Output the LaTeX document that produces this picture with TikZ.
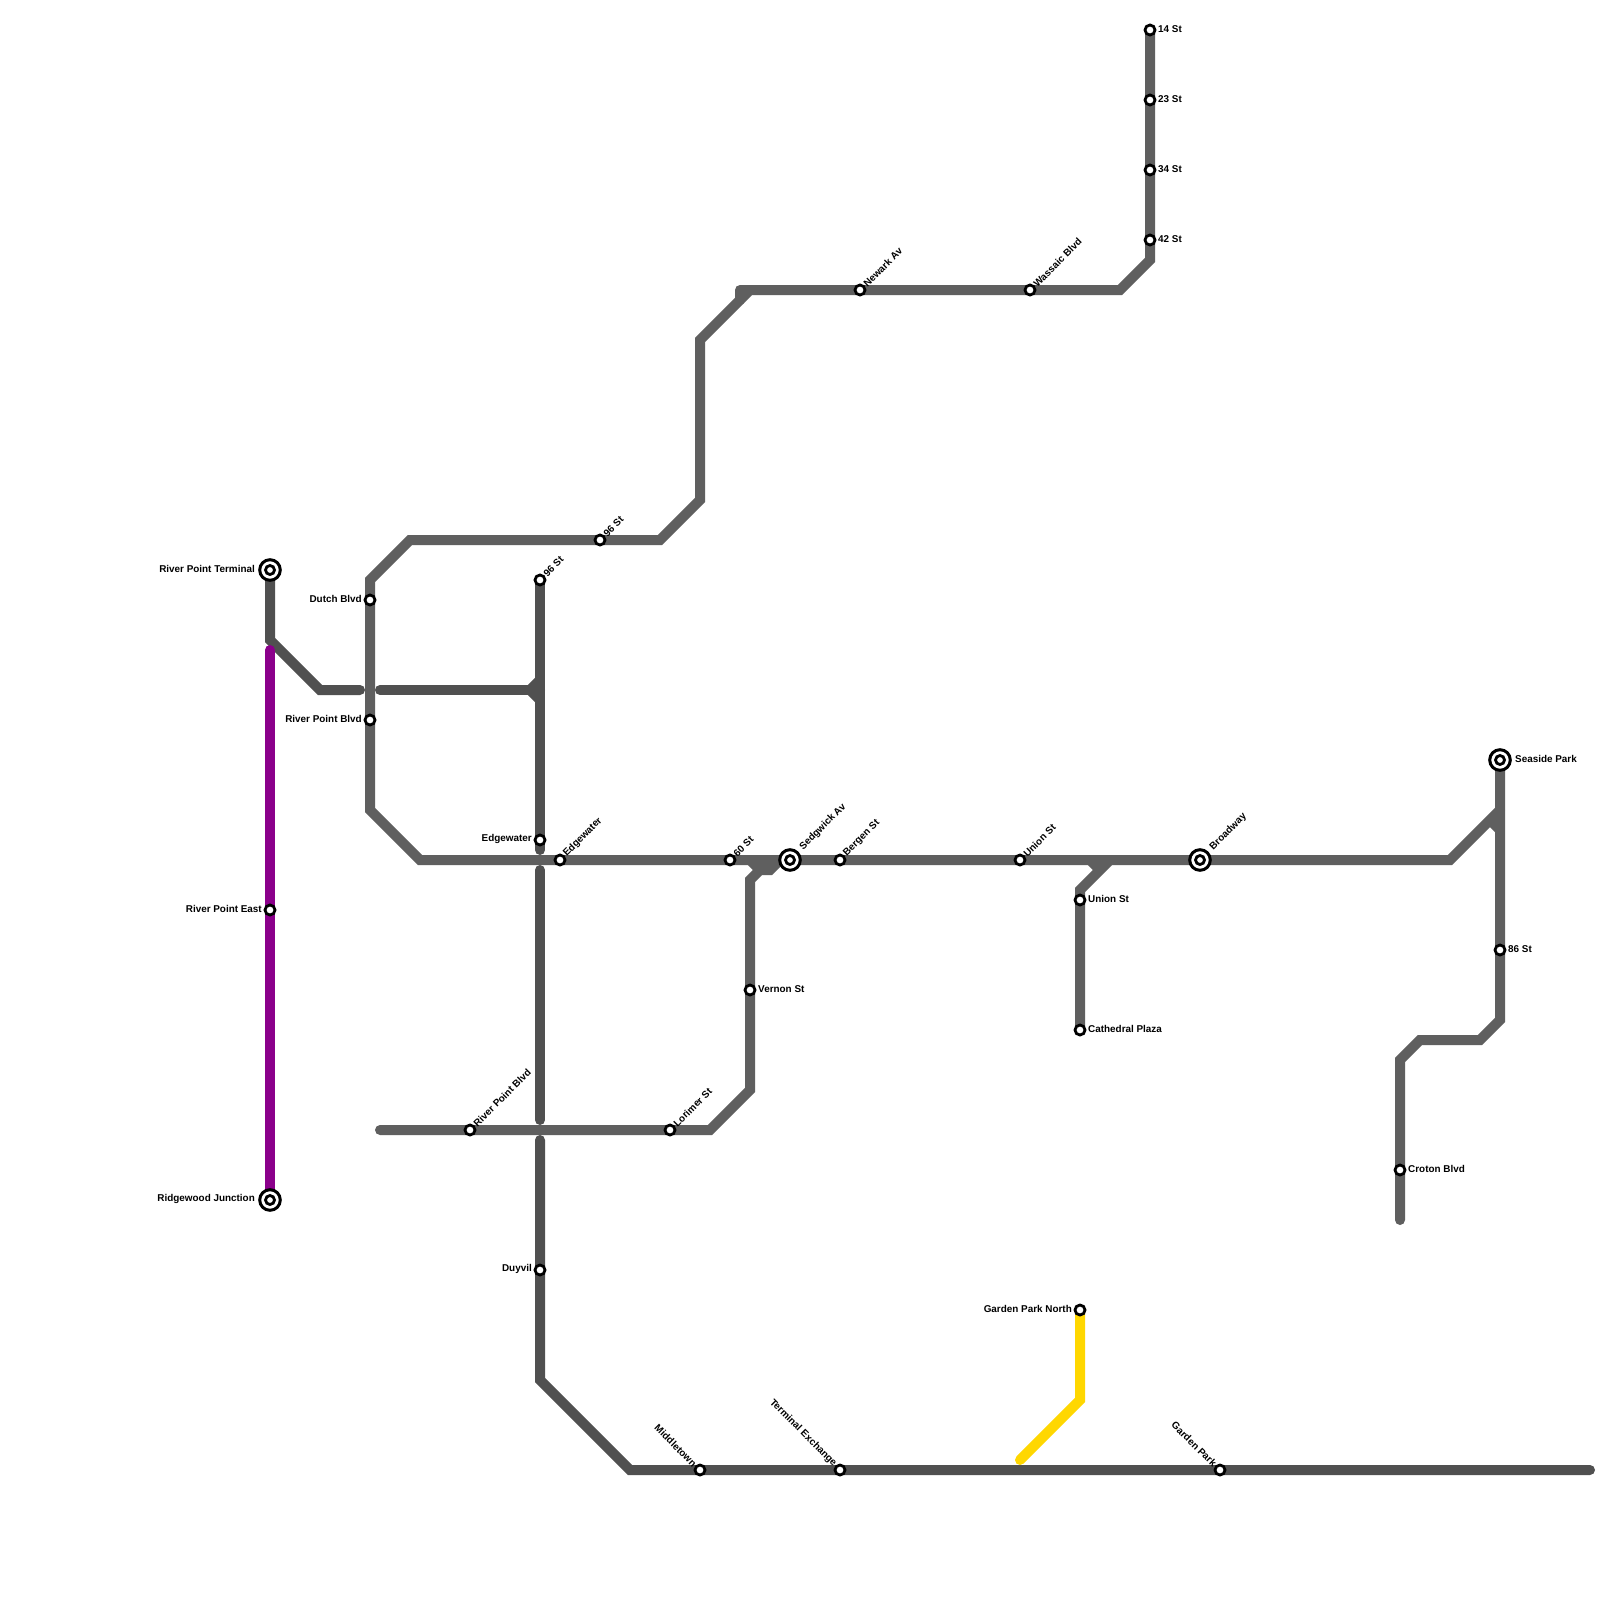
\documentclass[tikz,border=0pt]{standalone}
\usepackage{fontspec}
\setmainfont{Liberation Sans}
\pgfdeclarelayer{lines}
\pgfsetlayers{lines,main}
\definecolor{lineA}{HTML}{5F5F5F}
\definecolor{lineB}{HTML}{505050}
\definecolor{purpleline}{HTML}{8B008B}
\definecolor{yellowline}{HTML}{FFD700}
\tikzset{
  rail/.style={line width=10pt,line cap=round,line join=miter,miter limit=10},
  stn/.style={circle,draw=black,fill=white,line width=2.8pt,outer sep=0pt,minimum size=10pt,inner sep=0pt},
  hubo/.style={circle,draw=black,fill=white,line width=3pt,outer sep=0pt,minimum size=20.6pt,inner sep=0pt},
  hubi/.style={circle,draw=black,fill=white,line width=2.8pt,outer sep=0pt,minimum size=9pt,inner sep=0pt},
  lab/.style={font=\bfseries\fontsize{9.9}{10}\selectfont,inner sep=0pt,text=black},
  lr/.style={lab,anchor=west,xshift=8pt,yshift=0.8pt},
  ll/.style={lab,anchor=east,xshift=-8pt,yshift=0.8pt},
  lR/.style={lab,anchor=west,xshift=15pt,yshift=0.8pt},
  lL/.style={lab,anchor=east,xshift=-15pt,yshift=0.8pt},
  lu/.style={lab,anchor=west,rotate=45,xshift=7pt},
  lU/.style={lab,anchor=west,rotate=45,xshift=16pt},
  ld/.style={lab,anchor=east,rotate=-45,xshift=-7pt},
}
\newcommand{\stnode}[3]{\node[stn] (#1) at (#2,#3) {};}
\newcommand{\hubnode}[3]{\node[hubo] (#1) at (#2,#3) {}; \node[hubi] (#1i) at (#2,#3) {};}
\begin{document}
\begin{tikzpicture}[x=1pt,y=-1pt]
\useasboundingbox (0,0) rectangle (1600,1600);
% stations
\hubnode{rpt}{270}{570}
\hubnode{rj}{270}{1200}
\hubnode{sedg}{790}{860}
\hubnode{bway}{1200}{860}
\hubnode{sea}{1500}{760}
\stnode{rpe}{270}{910}
\stnode{dutch}{370}{600}
\stnode{rpb}{370}{720}
\stnode{nsa}{540}{580}
\stnode{edgea}{540}{840}
\stnode{edgeb}{560}{860}
\stnode{nsb}{600}{540}
\stnode{six}{730}{860}
\stnode{berg}{840}{860}
\stnode{unia}{1020}{860}
\stnode{unib}{1080}{900}
\stnode{cath}{1080}{1030}
\stnode{vern}{750}{990}
\stnode{rpc}{470}{1130}
\stnode{lori}{670}{1130}
\stnode{duyv}{540}{1270}
\stnode{midt}{700}{1470}
\stnode{term}{840}{1470}
\stnode{gard}{1220}{1470}
\stnode{gpn}{1080}{1310}
\stnode{eisix}{1500}{950}
\stnode{crot}{1400}{1170}
\stnode{sfour}{1150}{30}
\stnode{sthree}{1150}{100}
\stnode{sthf}{1150}{170}
\stnode{sft}{1150}{240}
\stnode{newk}{860}{290}
\stnode{wass}{1030}{290}
% free vertices
\coordinate (v1) at (270,640); \coordinate (v2) at (320,690); \coordinate (v3) at (360,690);
\coordinate (v4) at (380,690); \coordinate (v5) at (540,690); \coordinate (v6) at (530,690);
\coordinate (v7) at (540,680); \coordinate (v8) at (540,700); \coordinate (v9) at (540,850);
\coordinate (v10) at (540,870); \coordinate (v11) at (540,1120); \coordinate (v12) at (540,1140);
\coordinate (v13) at (540,1380); \coordinate (v14) at (630,1470); \coordinate (v15) at (1590,1470);
\coordinate (a1) at (370,580); \coordinate (a2) at (410,540); \coordinate (a3) at (660,540);
\coordinate (a4) at (700,500); \coordinate (a5) at (700,340); \coordinate (a6) at (750,290);
\coordinate (a7) at (1120,290); \coordinate (a8) at (1150,260); \coordinate (a9) at (740,300);
\coordinate (a10) at (740,290);
\coordinate (b1) at (370,810); \coordinate (b2) at (420,860); \coordinate (b3) at (1450,860);
\coordinate (b4) at (1500,810); \coordinate (b5) at (1500,830); \coordinate (b6) at (1490,820);
\coordinate (c1) at (1500,1020); \coordinate (c2) at (1480,1040); \coordinate (c3) at (1420,1040);
\coordinate (c4) at (1400,1060); \coordinate (c5) at (1400,1220);
\coordinate (d1) at (380,1130); \coordinate (d2) at (710,1130); \coordinate (d3) at (750,1090);
\coordinate (d4) at (750,880); \coordinate (d5) at (760,870); \coordinate (d6) at (770,870);
\coordinate (d7) at (780,860); \coordinate (d8) at (750,860);
\coordinate (e1) at (1080,890); \coordinate (e2) at (1110,860); \coordinate (e3) at (1090,860);
\coordinate (e4) at (1100,870);
\coordinate (y1) at (1080,1400); \coordinate (y2) at (1020,1460);
\coordinate (p1) at (270,650);
\begin{pgfonlayer}{lines}
\fill[white] (0,0) rectangle (1600,1600);
% lighter lines
\draw[rail,lineA] (sfour.center) -- (a8) -- (a7) -- (a6) -- (a5) -- (a4) -- (a3) -- (a2) -- (a1) -- (b1) -- (b2) -- (b3) -- (b4);
\draw[rail,lineA,line join=round] (a9) -- (a10) -- (a6);
\draw[rail,lineA,line cap=butt] (b5) -- (b6);
\draw[rail,lineA] (sea.center) -- (c1) -- (c2) -- (c3) -- (c4) -- (c5);
\draw[rail,lineA] (d1) -- (d2) -- (d3) -- (d4) -- (d5) -- (d6) -- (d7);
\draw[rail,lineA,line cap=butt] (d8) -- (d5);
\draw[rail,lineA] (cath.center) -- (e1) -- (e2);
\draw[rail,lineA,line cap=butt] (e3) -- (e4);
% darker lines
\draw[rail,lineB] (rpt.center) -- (v1) -- (v2) -- (v3);
\draw[rail,lineB] (v4) -- (v5);
\draw[rail,lineB] (nsa.center) -- (v9);
\draw[rail,lineB,line cap=butt] (v7) -- (v6) -- (v8);
\draw[rail,lineB] (v10) -- (v11);
\draw[rail,lineB] (v12) -- (v13) -- (v14) -- (v15);
% coloured lines
\draw[rail,purpleline] (p1) -- (rj.center);
\draw[rail,yellowline] (gpn.center) -- (y1) -- (y2);
\end{pgfonlayer}
% labels
\node[lL] (l1) at (rpt) {River Point Terminal};
\node[lL] (l2) at (rj) {Ridgewood Junction};
\node[ll] (l3) at (rpe) {River Point East};
\node[ll] (l4) at (dutch) {Dutch Blvd};
\node[ll] (l5) at (rpb) {River Point Blvd};
\node[ll] (l6) at (edgea) {Edgewater};
\node[ll] (l7) at (duyv) {Duyvil};
\node[ll] (l8) at (gpn) {Garden Park North};
\node[lr] (l9) at (vern) {Vernon St};
\node[lr] (l10) at (unib) {Union St};
\node[lr] (l11) at (cath) {Cathedral Plaza};
\node[lr] (l12) at (eisix) {86 St};
\node[lr] (l13) at (crot) {Croton Blvd};
\node[lr] (l14) at (sfour) {14 St};
\node[lr] (l15) at (sthree) {23 St};
\node[lr] (l16) at (sthf) {34 St};
\node[lr] (l17) at (sft) {42 St};
\node[lR] (l18) at (sea) {Seaside Park};
\node[lu] (l19) at (nsa) {96 St};
\node[lu] (l20) at (edgeb) {Edgewater};
\node[lu] (l21) at (nsb) {96 St};
\node[lu] (l22) at (six) {60 St};
\node[lU] (l23) at (sedg) {Sedgwick Av};
\node[lu] (l24) at (berg) {Bergen St};
\node[lu] (l25) at (unia) {Union St};
\node[lU] (l26) at (bway) {Broadway};
\node[lu] (l27) at (rpc) {River Point Blvd};
\node[lu] (l28) at (lori) {Lorimer St};
\node[lu] (l29) at (newk) {Newark Av};
\node[lu] (l30) at (wass) {Wassaic Blvd};
\node[ld] (l31) at (midt) {Middletown};
\node[ld] (l32) at (term) {Terminal Exchange};
\node[ld] (l33) at (gard) {Garden Park};
\end{tikzpicture}
\end{document}
